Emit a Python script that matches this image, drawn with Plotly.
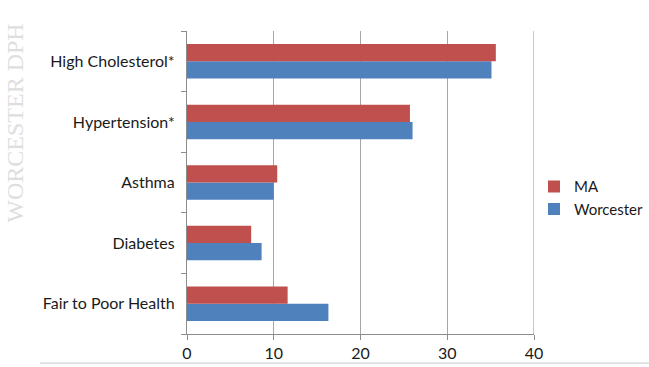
import plotly.graph_objects as go

# Survey indicators, listed bottom to top as drawn on the category axis
categories = ["Fair to Poor Health", "Diabetes", "Asthma", "Hypertension*", "High Cholesterol*"]
worcester = [16.3, 8.6, 10.0, 26.0, 35.1]
ma = [11.6, 7.4, 10.4, 25.7, 35.6]
x_ticks = [0, 10, 20, 30, 40]

RED = "#C0504D"
BLUE = "#4F81BD"
LABEL_FONT = dict(family="Lato, 'Open Sans', sans-serif", size=16, color="#1a1a1a")

fig = go.Figure()
fig.add_trace(go.Bar(y=categories, x=worcester, name="Worcester", orientation="h",
                     marker=dict(color=BLUE, line=dict(width=0)), legendgroup="w"))
fig.add_trace(go.Bar(y=categories, x=ma, name="MA", orientation="h",
                     marker=dict(color=RED, line=dict(width=0)), legendgroup="m"))

fig.update_layout(
    width=649, height=367,
    margin=dict(l=187, r=115, t=31, b=33, autoexpand=False),
    paper_bgcolor="white", plot_bgcolor="white",
    barmode="group", bargap=0.43, bargroupgap=0,
    font=LABEL_FONT,
    legend=dict(x=1.0, y=0.45, xanchor="left", yanchor="middle",
                traceorder="reversed", tracegroupgap=17,
                font=dict(size=15, color="#1a1a1a"), itemwidth=30),
    showlegend=True,
)

fig.update_xaxes(
    range=[0, 40], tickvals=x_ticks, ticktext=[str(v) for v in x_ticks],
    showgrid=True, gridcolor="#a6a6a6", gridwidth=1.2,
    showline=True, linecolor="#8c8c8c", linewidth=1.2,
    ticks="outside", ticklen=5, tickcolor="#8c8c8c",
    zeroline=False, fixedrange=True,
)
fig.update_yaxes(
    categoryorder="array", categoryarray=categories,
    showline=True, linecolor="#8c8c8c", linewidth=1.2,
    ticks="outside", ticklen=5, tickcolor="#8c8c8c", tickson="boundaries",
    ticklabelstandoff=8, showgrid=False, fixedrange=True,
)

# right-hand border at the 40 mark
fig.add_shape(type="line", xref="x", yref="paper", x0=40, x1=40, y0=0, y1=1,
              line=dict(color="#a6a6a6", width=1.2))
# rule beneath the axis labels
fig.add_shape(type="line", xref="paper", yref="paper", x0=-0.424, x1=1.34, y0=-0.096, y1=-0.096,
              line=dict(color="#c8c8c8", width=1))
# faint vertical watermark
fig.add_annotation(text="WORCESTER DPH", xref="paper", yref="paper",
                   x=-0.495, y=1.03, xanchor="center", yanchor="top",
                   textangle=-90, showarrow=False,
                   font=dict(family="Liberation Serif, serif", size=24, color="#dedede"))

fig.write_html("out.html")
